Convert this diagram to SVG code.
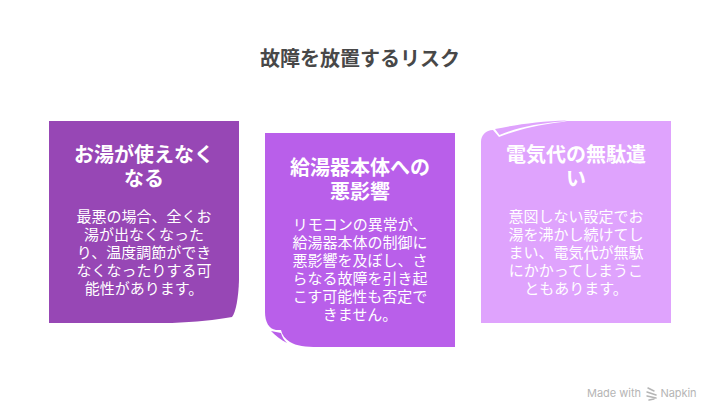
<svg xmlns="http://www.w3.org/2000/svg" width="720" height="420" viewBox="0 0 720 420">
<style>
text{font-family:"Noto Sans CJK JP","Noto Sans",sans-serif;text-anchor:middle}
.h{font-size:20px;font-weight:700;fill:#fff}
.b{font-size:15px;fill:#fff}
.t{font-size:20px;font-weight:700;fill:#484848}
.m{font-family:"Inter","Noto Sans",sans-serif;font-size:11px;font-weight:400;fill:#b5b5b5}
</style>
<rect width="720" height="420" fill="#fff"/>
<text class="t" x="360" y="66">故障を放置するリスク</text>
<g id="card1">
<path d="M49 121H239V280C238.500 297 236 312 232 317C216 320 195 322 172 323H49Z" fill="#9747b5"/>
<text class="h" x="144" y="162">お湯が使えなく</text>
<text class="h" x="144" y="186">なる</text>
<text class="b" x="144" y="222">最悪の場合、全くお</text>
<text class="b" x="144" y="240">湯が出なくなった</text>
<text class="b" x="144" y="258">り、温度調節ができ</text>
<text class="b" x="144" y="276">なくなったりする可</text>
<text class="b" x="144" y="294">能性があります。</text>
</g>
<g id="card2">
<path d="M265 133H455V347H318C306 347 296 346 290 342C285 339 282 335 281 330L276 330C269 329 265 322 265 312Z" fill="#b95fea"/>
<path d="M271 331L281 333C282 337 284 340 287 343C281 340 275 335 271 331Z" fill="#b95fea"/>
<text class="h" x="360" y="175">給湯器本体への</text>
<text class="h" x="360" y="199">悪影響</text>
<text class="b" x="360" y="230">リモコンの異常が、</text>
<text class="b" x="360" y="248">給湯器本体の制御に</text>
<text class="b" x="360" y="266">悪影響を及ぼし、さ</text>
<text class="b" x="360" y="284">らなる故障を引き起</text>
<text class="b" x="360" y="302">こす可能性も否定で</text>
<text class="b" x="360" y="320">きません。</text>
</g>
<g id="card3">
<path d="M481 142C481 135 486 130 493 130L499 137C514 131 535 125 562 122L567 121H671V323H481Z" fill="#dfa3fd"/>
<path d="M495 129C515 125 540 121 567 120.500L562 121.500C540 123 515 128 499.500 135Z" fill="#dfa3fd"/>
<text class="h" x="576" y="162">電気代の無駄遣</text>
<text class="h" x="576" y="186">い</text>
<text class="b" x="576" y="222">意図しない設定でお</text>
<text class="b" x="576" y="240">湯を沸かし続けてし</text>
<text class="b" x="576" y="258">まい、電気代が無駄</text>
<text class="b" x="576" y="276">にかかってしまうこ</text>
<text class="b" x="576" y="294">ともあります。</text>
</g>
<g id="watermark">
<text class="m" x="614" y="397" textLength="54">Made with</text>
<path d="M648 388L654 391M647 392L656 395M647 396L656 398M649 400L654 399" fill="none" stroke="#b5b5b5" stroke-width="1.500" stroke-linecap="round"/>
<text class="m" x="678.500" y="397" textLength="36">Napkin</text>
</g>
</svg>
